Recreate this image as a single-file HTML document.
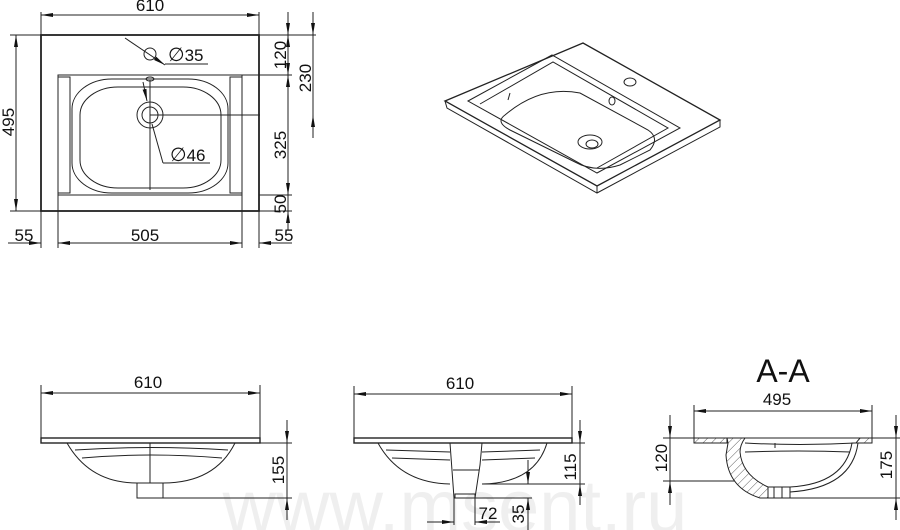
<!DOCTYPE html>
<html><head><meta charset="utf-8"><style>
html,body{margin:0;padding:0;background:#fff;}
svg{display:block;}
text{font-family:"Liberation Sans",Arial,sans-serif;fill:#111;}
</style></head><body>
<svg width="900" height="530" viewBox="0 0 900 530" xmlns="http://www.w3.org/2000/svg">
<defs>
<marker id="a" viewBox="0 0 12 4" refX="12" refY="2" markerWidth="12" markerHeight="4" markerUnits="userSpaceOnUse" orient="auto-start-reverse"><path d="M0,0 L12,2 L0,4 z" fill="#111"/></marker>
<pattern id="h" width="6" height="6" patternUnits="userSpaceOnUse" patternTransform="rotate(45)"><line x1="0" y1="0" x2="0" y2="6" stroke="#333" stroke-width="0.8"/></pattern>
</defs>
<!-- watermark -->
<text x="455" y="532" font-size="74" text-anchor="middle" style="fill:#efefef">www.msent.ru</text>

<g stroke="#222" fill="none" stroke-width="1">
<!-- TOP VIEW -->
<rect x="41" y="35" width="218" height="176" stroke-width="1.8"/>
<rect x="58" y="75" width="184" height="120"/>
<line x1="58" y1="195" x2="58" y2="211"/><line x1="242" y1="195" x2="242" y2="211"/>
<rect x="58" y="77" width="12" height="116"/>
<rect x="230" y="77" width="12" height="116"/>
<rect x="72" y="79" width="156" height="114" rx="40" ry="30"/>
<rect x="80" y="87" width="141" height="101" rx="38" ry="28"/>
<line x1="150" y1="80" x2="150" y2="190"/>
<ellipse cx="150" cy="79" rx="4" ry="2"/>
<circle cx="150" cy="115" r="13"/><circle cx="150" cy="115" r="8"/>
<line x1="150" y1="115" x2="260" y2="115"/>
<circle cx="150" cy="54" r="6"/>
<line x1="125" y1="38" x2="165" y2="65" marker-end="url(#a)"/>
<line x1="165" y1="64" x2="208" y2="64"/>
<line x1="143" y1="82" x2="147" y2="101" marker-end="url(#a)"/>
<line x1="152" y1="124" x2="163" y2="163"/><line x1="163" y1="163" x2="210" y2="163"/>
<!-- top dims -->
<line x1="41" y1="12" x2="41" y2="35"/><line x1="259" y1="12" x2="259" y2="35"/>
<line x1="41" y1="15" x2="259" y2="15" marker-start="url(#a)" marker-end="url(#a)"/>
<line x1="10" y1="35" x2="41" y2="35"/><line x1="10" y1="211" x2="41" y2="211"/>
<line x1="16" y1="35" x2="16" y2="211" marker-start="url(#a)" marker-end="url(#a)"/>
<line x1="259" y1="35" x2="316" y2="35"/>
<line x1="242" y1="75" x2="292" y2="75"/>
<line x1="259" y1="195" x2="292" y2="195"/>
<line x1="259" y1="211" x2="292" y2="211"/>
<line x1="288" y1="12" x2="288" y2="35" marker-end="url(#a)"/>
<line x1="288" y1="35" x2="288" y2="75" marker-start="url(#a)" marker-end="url(#a)"/>
<line x1="288" y1="75" x2="288" y2="195" marker-start="url(#a)" marker-end="url(#a)"/>
<line x1="288" y1="195" x2="288" y2="211"/>
<line x1="288" y1="230" x2="288" y2="211" marker-end="url(#a)"/>
<line x1="313" y1="12" x2="313" y2="35" marker-end="url(#a)"/>
<line x1="313" y1="35" x2="313" y2="115"/>
<line x1="313" y1="138" x2="313" y2="115" marker-end="url(#a)"/>
<line x1="41" y1="211" x2="41" y2="248"/><line x1="58" y1="195" x2="58" y2="248"/>
<line x1="242" y1="195" x2="242" y2="248"/><line x1="259" y1="211" x2="259" y2="248"/>
<line x1="8" y1="243" x2="41" y2="243" marker-end="url(#a)"/>
<line x1="58" y1="243" x2="242" y2="243" marker-start="url(#a)" marker-end="url(#a)"/>
<line x1="292" y1="243" x2="259" y2="243" marker-end="url(#a)"/>

<!-- 3D VIEW -->
<path d="M445,101 L583,43 L720,120 L597,186 Z" stroke-width="1.3"/>
<path d="M445,101 L447,108 L597,193 L720,127 L720,120"/>
<line x1="597" y1="186" x2="597" y2="193"/>
<path d="M468,101 L552,55 L680,128 L597,173 Z"/>
<path d="M480,104 L553,62 L668,128 L597,168"/>
<path d="M505,115 Q540,85 580,93 L648,130 Q660,138 650,150 L620,165 Q595,173 575,162 L510,130 Q495,122 505,115 Z"/>
<line x1="510" y1="93" x2="508" y2="100"/>
<ellipse cx="590" cy="142" rx="12" ry="7"/><ellipse cx="592" cy="144" rx="6" ry="4"/>
<ellipse cx="630" cy="82" rx="6" ry="4"/>
<ellipse cx="612" cy="101" rx="3" ry="4"/>

<!-- FRONT VIEW 1 -->
<line x1="41" y1="393" x2="260" y2="393" marker-start="url(#a)" marker-end="url(#a)"/>
<line x1="41" y1="385" x2="41" y2="438"/><line x1="260" y1="385" x2="260" y2="438"/>
<rect x="41" y="438" width="219" height="5" stroke-width="1.4"/>
<path d="M67,443 Q90,483 137,483 L163,483 Q215,483 235,443"/>
<path d="M75,450 Q150,445 228,450"/><path d="M82,458 Q150,452 222,458"/>
<line x1="150" y1="443" x2="150" y2="483"/>
<rect x="137" y="483" width="26" height="15"/>
<line x1="260" y1="443" x2="292" y2="443"/><line x1="163" y1="498" x2="292" y2="498"/>
<line x1="287" y1="420" x2="287" y2="443" marker-end="url(#a)"/>
<line x1="287" y1="443" x2="287" y2="498"/>
<line x1="287" y1="520" x2="287" y2="498" marker-end="url(#a)"/>

<!-- FRONT VIEW 2 -->
<line x1="354" y1="394" x2="572" y2="394" marker-start="url(#a)" marker-end="url(#a)"/>
<line x1="354" y1="386" x2="354" y2="438"/><line x1="572" y1="386" x2="572" y2="438"/>
<rect x="354" y="438" width="218" height="5" stroke-width="1.4"/>
<path d="M378,443 Q400,483 450,484"/><path d="M482,484 Q535,483 547,443"/>
<path d="M386,450 L450,452"/><path d="M392,458 L450,460"/>
<path d="M482,452 L540,450"/><path d="M482,460 L535,458"/>
<path d="M450,443 L454,498 L475,498 L480,465 L482,443"/>
<line x1="453" y1="470" x2="479" y2="470"/>
<rect x="455" y="494" width="20" height="4"/>
<line x1="572" y1="443" x2="585" y2="443"/><line x1="482" y1="484" x2="585" y2="484"/>
<line x1="580" y1="420" x2="580" y2="443" marker-end="url(#a)"/>
<line x1="580" y1="443" x2="580" y2="484"/>
<line x1="580" y1="505" x2="580" y2="484" marker-end="url(#a)"/>
<line x1="475" y1="498" x2="532" y2="498"/>
<line x1="528" y1="460" x2="528" y2="484" marker-end="url(#a)"/>
<line x1="528" y1="498" x2="528" y2="530"/>
<line x1="528" y1="520" x2="528" y2="498" marker-end="url(#a)"/>
<line x1="427" y1="522" x2="454" y2="522" marker-end="url(#a)"/>
<line x1="500" y1="522" x2="475" y2="522" marker-end="url(#a)"/>
<line x1="454" y1="498" x2="454" y2="525"/><line x1="475" y1="498" x2="475" y2="525"/>

<!-- SECTION A-A -->
<line x1="694" y1="411" x2="872" y2="411" marker-start="url(#a)" marker-end="url(#a)"/>
<line x1="694" y1="405" x2="694" y2="438"/><line x1="872" y1="405" x2="872" y2="438"/>
<line x1="663" y1="438" x2="900" y2="438"/>
<path d="M694,438 L694,443 L727,443 L727,438 Z" fill="url(#h)"/>
<path d="M727,438 L745,438 Q740,445 740,452 Q742,475 768,487 L768,498 L760,498 Q728,488 726,455 L728,443 Z" fill="url(#h)"/>
<path d="M768,487 L790,487 L790,498 L768,498"/>
<line x1="774" y1="487" x2="774" y2="498"/><line x1="782" y1="487" x2="782" y2="498"/>
<path d="M790,487 Q845,484 852,443 L858,443 L872,443 L872,438"/>
<path d="M856,443 L872,443 L872,438 L860,438 Z" fill="url(#h)"/>
<path d="M790,492 Q852,488 858,443"/>
<path d="M745,443 Q800,446 855,443"/><path d="M745,452 Q800,450 850,452"/>
<line x1="775" y1="443" x2="775" y2="448"/>
<line x1="663" y1="481" x2="735" y2="481"/>
<line x1="760" y1="498" x2="900" y2="498"/>
<line x1="670" y1="415" x2="670" y2="438" marker-end="url(#a)"/>
<line x1="670" y1="438" x2="670" y2="481"/>
<line x1="670" y1="505" x2="670" y2="481" marker-end="url(#a)"/>
<line x1="896" y1="415" x2="896" y2="438" marker-end="url(#a)"/>
<line x1="896" y1="438" x2="896" y2="498"/>
<line x1="896" y1="520" x2="896" y2="498" marker-end="url(#a)"/>
</g>

<g font-size="17">
<text x="150" y="11" text-anchor="middle">610</text>
<text transform="translate(14,122) rotate(-90)" text-anchor="middle">495</text>
<text x="168" y="61"><tspan font-size="19">∅</tspan>35</text>
<text x="170" y="161"><tspan font-size="19">∅</tspan>46</text>
<text transform="translate(286,55) rotate(-90)" text-anchor="middle">120</text>
<text transform="translate(311,78) rotate(-90)" text-anchor="middle">230</text>
<text transform="translate(286,145) rotate(-90)" text-anchor="middle">325</text>
<text transform="translate(286,204) rotate(-90)" text-anchor="middle">50</text>
<text x="24" y="241" text-anchor="middle">55</text>
<text x="145" y="241" text-anchor="middle">505</text>
<text x="284" y="241" text-anchor="middle">55</text>
<text x="148" y="388" text-anchor="middle">610</text>
<text transform="translate(284,470) rotate(-90)" text-anchor="middle">155</text>
<text x="460" y="389" text-anchor="middle">610</text>
<text transform="translate(576,467) rotate(-90)" text-anchor="middle">115</text>
<text x="488" y="519" text-anchor="middle">72</text>
<text transform="translate(524,514) rotate(-90)" text-anchor="middle">35</text>
<text x="777" y="405" text-anchor="middle">495</text>
<text transform="translate(667,458) rotate(-90)" text-anchor="middle">120</text>
<text transform="translate(892,465) rotate(-90)" text-anchor="middle">175</text>
</g>
<text x="783" y="382" font-size="32" text-anchor="middle">A-A</text>
</svg>
</body></html>
